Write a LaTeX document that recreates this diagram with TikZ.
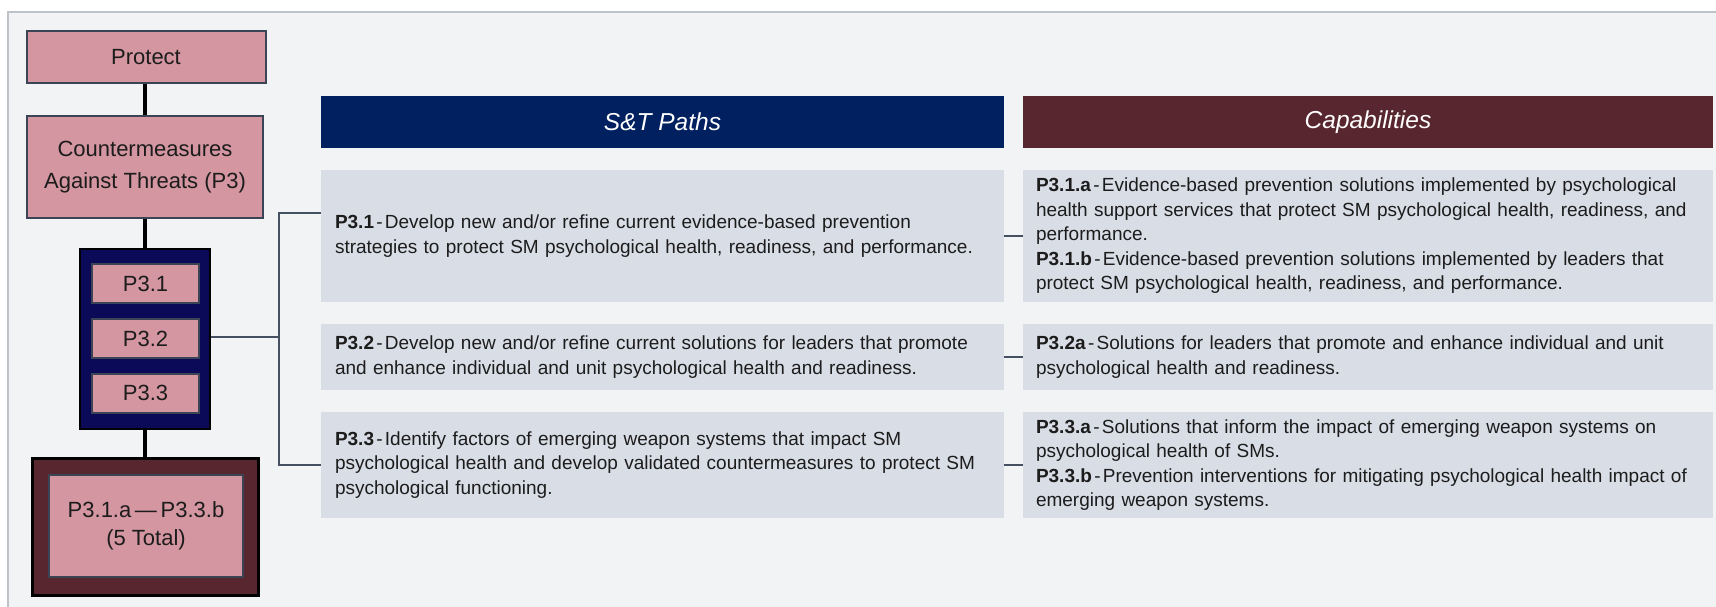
\documentclass[tikz,border=0pt]{standalone}
\usepackage{fontspec}
\setmainfont{Liberation Sans}
\newfontfamily\leftfont{Liberation Sans}
\definecolor{pinkfill}{RGB}{212,150,160}
\definecolor{boxline}{RGB}{59,68,84}
\definecolor{navyc}{RGB}{10,10,88}
\definecolor{navyh}{RGB}{1,32,96}
\definecolor{maroonc}{RGB}{88,38,46}
\definecolor{textbox}{RGB}{217,221,230}
\definecolor{panel}{RGB}{242,243,245}
\definecolor{panelline}{RGB}{190,195,202}
\definecolor{conn}{RGB}{70,80,98}
\definecolor{txt}{RGB}{28,28,28}
\newcommand{\sepdash}{\hspace{0.12em}-\hspace{0.12em}}
\tikzset{
  pinkbox/.style={draw=boxline, line width=2pt, fill=pinkfill, inner sep=0pt, align=center,
    font=\leftfont\fontsize{22}{32}\selectfont, text=txt},
  navybox/.style={draw=black, line width=2pt, fill=navyc, inner sep=0pt},
  maroonbox/.style={draw=black, line width=3pt, fill=maroonc, inner sep=0pt},
  header/.style={inner sep=0pt, text=white, font=\fontsize{24.5}{28}\selectfont\itshape},
  tbox/.style={fill=textbox, inner xsep=14pt, inner ysep=0pt, align=left,
    font=\fontsize{19}{24.5}\selectfont, text=txt},
  link/.style={line width=3.5pt, draw=black},
  bracket/.style={line width=1.5pt, draw=conn}
}
\begin{document}
\begin{tikzpicture}[x=1pt,y=-1pt]
\useasboundingbox (0,0) rectangle (1716,607);
\fill[white] (0,0) rectangle (1716,607);
\fill[panel] (8,12) rectangle (1716,607);
\draw[panelline, line width=1.5pt] (8,607) -- (8,12) -- (1716,12);

% left column
\node[pinkbox, minimum width=239, minimum height=52] (protect) at (146,57) {Protect};
\node[pinkbox, minimum width=236, minimum height=102] (counter) at (145,167) {Countermeasures\\Against Threats (P3)};
\node[navybox, minimum width=130, minimum height=180] (navy) at (145,339) {};
\node[pinkbox, minimum width=107, minimum height=39] (p31) at (145.5,283.5) {P3.1};
\node[pinkbox, minimum width=107, minimum height=39] (p32) at (145.5,338.5) {P3.2};
\node[pinkbox, minimum width=107, minimum height=39] (p33) at (145.5,393) {P3.3};
\node[maroonbox, minimum width=226, minimum height=137] (maroon) at (145,526.5) {};
\node[pinkbox, minimum width=194, minimum height=102, font=\leftfont\fontsize{22}{28}\selectfont] (total) at (146,526) {P3.1.a\,\textemdash\,P3.3.b\\(5 Total)};

\draw[link] (counter.north) -- (counter.north |- protect.south);
\draw[link] (counter.south) -- (navy.north);
\draw[link] (navy.south) -- (maroon.north);

% headers
\node[header, fill=navyh, minimum width=683, minimum height=52] (hpath) at (662.5,122) {S\&T Paths};
\node[header, fill=maroonc, minimum width=690, minimum height=52] (hcap) at (1368,122) {Capabilities};

% S&T path boxes
\node[tbox, text width=655, minimum height=132] (path1) at (662.5,236) {\textbf{P3.1}\sepdash Develop new and/or refine current evidence-based prevention\\strategies to protect SM psychological health, readiness, and performance.};
\node[tbox, text width=655, minimum height=66] (path2) at (662.5,357) {\textbf{P3.2}\sepdash Develop new and/or refine current solutions for leaders that promote\\and enhance individual and unit psychological health and readiness.};
\node[tbox, text width=655, minimum height=106] (path3) at (662.5,465) {\textbf{P3.3}\sepdash Identify factors of emerging weapon systems that impact SM\\psychological health and develop validated countermeasures to protect SM\\psychological functioning.};

% capability boxes
\node[tbox, inner xsep=13pt, text width=664, minimum height=132] (cap1) at (1368,236) {\textbf{P3.1.a}\sepdash Evidence-based prevention solutions implemented by psychological\\health support services that protect SM psychological health, readiness, and\\performance.\\\textbf{P3.1.b}\sepdash Evidence-based prevention solutions implemented by leaders that\\protect SM psychological health, readiness, and performance.};
\node[tbox, inner xsep=13pt, text width=664, minimum height=66] (cap2) at (1368,357) {\textbf{P3.2a}\sepdash Solutions for leaders that promote and enhance individual and unit\\psychological health and readiness.};
\node[tbox, inner xsep=13pt, text width=664, minimum height=106] (cap3) at (1368,465) {\textbf{P3.3.a}\sepdash Solutions that inform the impact of emerging weapon systems on\\psychological health of SMs.\\\textbf{P3.3.b}\sepdash Prevention interventions for mitigating psychological health impact of\\emerging weapon systems.};

% bracket connectors
\coordinate (b1) at (279,213);
\coordinate (b2) at (279,337);
\coordinate (b3) at (279,465);
\draw[bracket] (path1.west |- b1) -- (b1) -- (b3) -- (path3.west);
\draw[bracket] (navy.east |- b2) -- (b2);
\draw[bracket] (path1.east) -- (cap1.west);
\draw[bracket] (path2.east) -- (cap2.west);
\draw[bracket] (path3.east) -- (cap3.west);
\end{tikzpicture}
\end{document}
